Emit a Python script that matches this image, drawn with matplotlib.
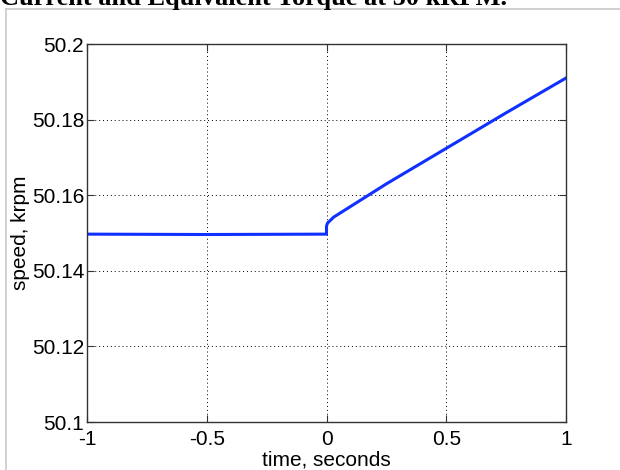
import matplotlib
matplotlib.use('Agg')
import matplotlib.pyplot as plt
from matplotlib.lines import Line2D

# Velocidade do rotor em torno do degrau de carga
tempo = [-1.0, -0.5, 0.0, 0.0, 0.004, 0.03, 0.25, 0.5, 0.75, 1.0]
velocidade = [50.1497, 50.1496, 50.1497, 50.1518, 50.1526, 50.1542, 50.1630, 50.1724, 50.1818, 50.1910]

xticks = [-1, -0.5, 0, 0.5, 1]
xtick_labels = ['-1', '-0.5', '0', '0.5', '1']
yticks = [50.1, 50.12, 50.14, 50.16, 50.18, 50.2]
ytick_labels = ['50.1', '50.12', '50.14', '50.16', '50.18', '50.2']

plt.rcParams['font.family'] = ['Liberation Sans', 'DejaVu Sans']
fs = 15

fig = plt.figure(figsize=(6.2, 4.7), dpi=100)
ax = fig.add_axes([87 / 620, 1 - 422 / 470, (566 - 87) / 620, (422 - 44) / 470])

ax.plot(tempo, velocidade, color='#1030ff', linewidth=2.2)

ax.set_xlim(-1, 1)
ax.set_ylim(50.1, 50.2)
ax.set_xticks(xticks)
ax.set_xticklabels(xtick_labels)
ax.set_yticks(yticks)
ax.set_yticklabels(ytick_labels)
ax.tick_params(direction='in', length=5, width=0.8, labelsize=fs,
               top=True, right=True, color='#333333', labelcolor='black')
ax.tick_params(axis='x', pad=6)
ax.tick_params(axis='y', pad=2)
for s in ax.spines.values():
    s.set_color('#333333')
    s.set_linewidth(1.0)
ax.grid(True, linestyle=(0, (1, 3)), color='black', linewidth=0.7)

ax.set_xlabel('time, seconds', fontsize=fs, labelpad=1)
ax.set_ylabel('speed, krpm', fontsize=fs, labelpad=1)

# moldura cinzenta e título cortado no topo
fig.add_artist(Line2D([6 / 620, 6 / 620], [0, 1 - 9 / 470], color='#c8c8c8', linewidth=1.2))
fig.add_artist(Line2D([6 / 620, 1], [1 - 9 / 470, 1 - 9 / 470], color='#c8c8c8', linewidth=1.2))
fig.text(0.0, 1 - 4.5 / 470, 'Current and Equivalent Torque at 50 kRPM.',
         fontsize=19, fontweight='bold', family='Liberation Serif', va='baseline', ha='left')

fig.savefig('out.png', dpi=100)
